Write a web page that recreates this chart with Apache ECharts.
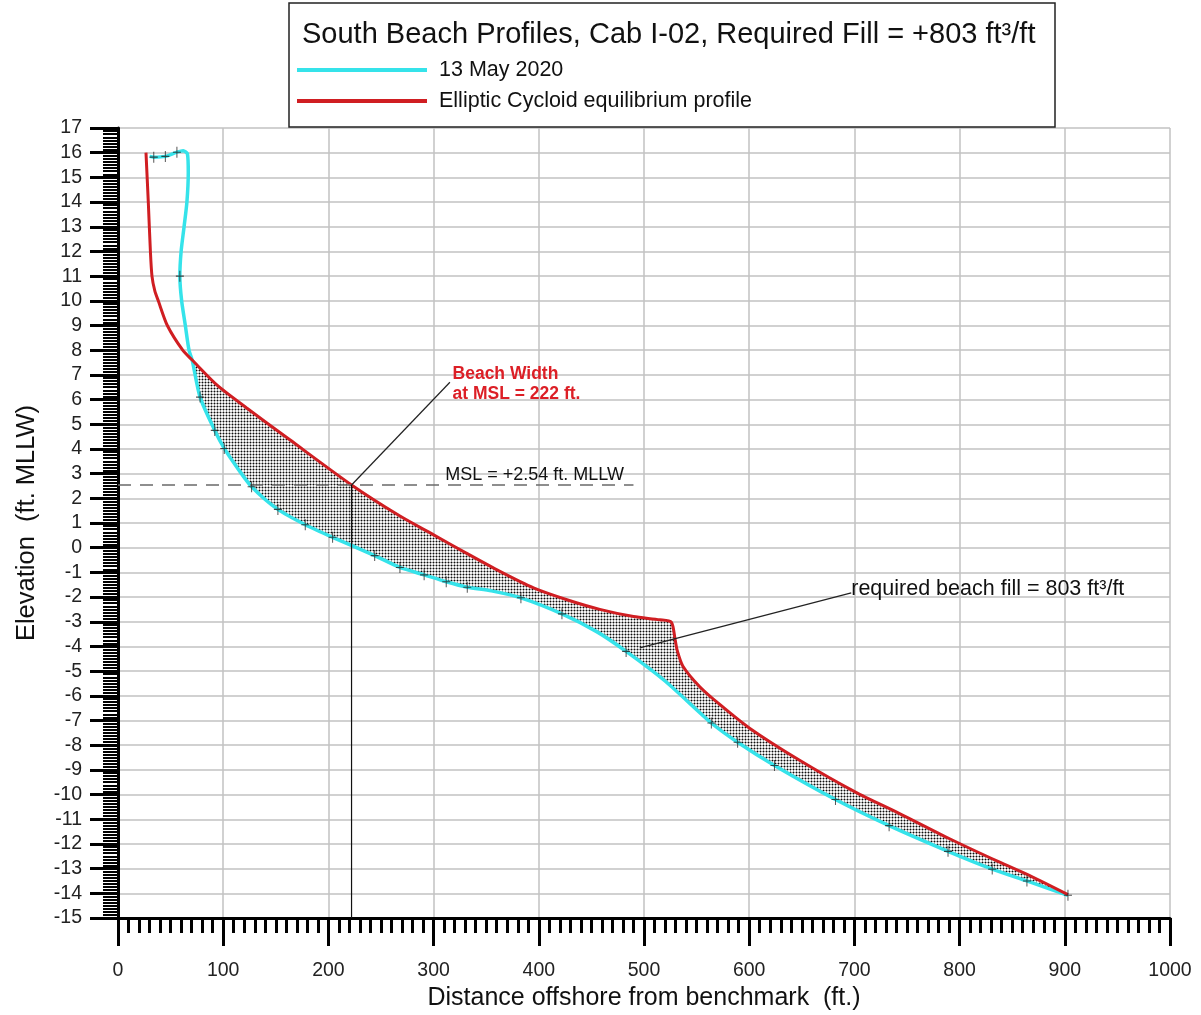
<!DOCTYPE html>
<html>
<head>
<meta charset="utf-8">
<title>South Beach Profiles, Cab I-02</title>
<script src="https://cdn.jsdelivr.net/npm/echarts/dist/echarts.min.js"></script>
<style>
  html, body { margin: 0; padding: 0; background: #fff; overflow: hidden; }
  #chart { width: 1201px; height: 1015px; }
</style>
</head>
<body>
<div id="chart"></div>
<script>
// Surveyed profile, 13 May 2020 (distance offshore ft, elevation ft MLLW)
const profileX = [30, 34, 45, 56, 62, 66, 66.8, 65.5, 62.8, 60, 58.8, 60.5, 64, 67.5, 70.5, 78, 92, 101, 114, 127,
                  152, 178, 204, 244, 268, 291, 312, 332, 355, 383, 422, 455, 483, 520, 564, 589, 624, 682, 733, 789,
                  831, 864, 903];
const profileY = [15.85, 15.82, 15.85, 16.02, 16.08, 15.95, 15.2, 14.0, 13.0, 12.0, 11.0, 10.0, 9.0, 8.0, 7.6, 6.1, 4.75, 4.02, 3.2, 2.47,
                  1.55, 0.93, 0.42, -0.32, -0.8, -1.1, -1.38, -1.6, -1.75, -2.03, -2.68, -3.4, -4.2, -5.4, -7.1, -7.88, -8.82, -10.2, -11.26, -12.3,
                  -13.02, -13.5, -14.08];

// Stations where survey shots were taken (marked with small crosses)
const surveyedAt = [34, 45, 56, 58.8, 78, 92, 101, 127, 152, 178, 204, 244, 268, 291, 312, 332, 383, 422, 483,
                    564, 589, 624, 682, 733, 789, 831, 864, 903];

// Elliptic cycloid equilibrium profile
const equilX = [26.6, 28.8, 30.8, 32.3, 35, 38.3, 46.9, 61.5, 70.5, 95, 122, 163, 222, 268, 300, 331, 363, 395, 426, 458,
                490, 515, 526, 529.5, 531.5, 537, 553, 572, 600, 647.5, 701, 742, 790, 837, 869, 903];
const equilY = [16.0, 14.0, 12.0, 11.0, 10.4, 10.0, 9.0, 8.0, 7.6, 6.55, 5.67, 4.38, 2.54, 1.28, 0.52, -0.22, -0.96, -1.63, -2.1, -2.5,
                -2.79, -2.92, -3.02, -3.7, -4.15, -4.8, -5.63, -6.35, -7.3, -8.6, -9.9, -10.75, -11.78, -12.72, -13.33, -14.05];

// Reference values
const MSL = 2.54;              // mean sea level, ft MLLW
const BEACH_WIDTH = 222;       // ft, equilibrium profile crossing of MSL
const REQUIRED_FILL = 803;     // ft^3/ft
const FILL_FROM_X = 70.5;      // where the two profiles part company
const mslLineX = [0, 490];
const BOTTOM = -15;

// Annotation anchors, in data units
const beachLabelAt = [318, 7.45];
const beachArrowFrom = [315.5, 6.7];
const mslLabelAt = [311, MSL];
const fillLabelAt = [697, -1.66];
const fillArrowFrom = [697, -1.83];
const fillArrowTo = [496, -4.06];

const FONT = '"Liberation Sans", Arial, Helvetica, sans-serif';
const CYAN = '#35e3ea';
const RED = '#d01e22';

const profile = profileX.map((x, i) => [x, profileY[i]]);
const equil = equilX.map((x, i) => [x, equilY[i]]);
const shots = surveyedAt.map(x => [x, profileY[profileX.indexOf(x)]]);

// Fill region: equilibrium profile above, surveyed profile below
const eqStart = equilX.indexOf(FILL_FROM_X);
const prStart = profileX.indexOf(FILL_FROM_X);
const fillPolygon = equil.slice(eqStart).concat(profile.slice(prStart).reverse());

// Stipple (dot) pattern for the fill
const stipple = document.createElement('canvas');
stipple.width = 3; stipple.height = 3;
(function () {
  const g = stipple.getContext('2d');
  g.fillStyle = '#f4f4f4'; g.fillRect(0, 0, 3, 3);
  g.fillStyle = '#9c9c9c';
  g.fillRect(0, 1, 1, 1); g.fillRect(2, 1, 1, 1); g.fillRect(1, 0, 1, 1); g.fillRect(1, 2, 1, 1);
  g.fillStyle = '#0d0d0d'; g.fillRect(1, 1, 1, 1);
})();

const chart = echarts.init(document.getElementById('chart'), null, { renderer: 'canvas' });

const option = {
  animation: false,
  backgroundColor: '#ffffff',
  textStyle: { fontFamily: FONT },
  title: {
    text: 'South Beach Profiles, Cab I-02, Required Fill = +' + REQUIRED_FILL + ' ft³/ft',
    left: 302, top: 20, padding: 0,
    textStyle: { fontFamily: FONT, fontSize: 29, fontWeight: 'normal', color: '#111' }
  },
  legend: {
    data: ['13 May 2020', 'Elliptic Cycloid equilibrium profile'],
    orient: 'vertical', left: 297, top: 58, padding: 0,
    itemWidth: 130, itemHeight: 4, itemGap: 7, icon: 'rect',
    selectedMode: false,
    textStyle: { fontFamily: FONT, fontSize: 21.5, color: '#111', lineHeight: 24, padding: [0, 0, 0, 7] }
  },
  grid: { left: 118, right: 31, top: 128, bottom: 97, outerBoundsMode: 'none', containLabel: false },
  xAxis: {
    type: 'value', min: 0, max: 1000, interval: 100,
    name: 'Distance offshore from benchmark  (ft.)',
    nameLocation: 'middle', nameGap: 68,
    nameTextStyle: { fontFamily: FONT, fontSize: 25, color: '#111' },
    axisLine: { show: true, onZero: false, lineStyle: { color: '#000', width: 3 } },
    axisTick: { show: true, length: 28, lineStyle: { color: '#000', width: 3 } },
    minorTick: { show: true, splitNumber: 10, length: 15, lineStyle: { color: '#000', width: 3 } },
    axisLabel: { fontFamily: FONT, fontSize: 19.5, color: '#222', margin: 43, formatter: v => String(v) },
    splitLine: { show: true, lineStyle: { color: '#c2c2c2', width: 1.5 } }
  },
  yAxis: {
    type: 'value', min: -15, max: 17, interval: 1,
    name: 'Elevation  (ft. MLLW)',
    nameLocation: 'middle', nameGap: 78, nameRotate: 90,
    nameTextStyle: { fontFamily: FONT, fontSize: 25.5, color: '#111' },
    axisLine: { show: true, onZero: false, lineStyle: { color: '#000', width: 3 } },
    axisTick: { show: true, length: 28, lineStyle: { color: '#000', width: 3 } },
    minorTick: { show: true, splitNumber: 8, length: 15, lineStyle: { color: '#000', width: 2 } },
    axisLabel: { fontFamily: FONT, fontSize: 19.5, color: '#222', margin: 36, formatter: v => String(v) },
    splitLine: { show: true, lineStyle: { color: '#c2c2c2', width: 1.5 } }
  },
  series: [
    {
      // stippled fill volume between the profiles
      type: 'custom', name: 'fill', z: 1, silent: true,
      data: [[FILL_FROM_X, 0]],
      renderItem: function (params, api) {
        const pts = fillPolygon.map(p => api.coord(p));
        return {
          type: 'polygon',
          shape: { points: pts },
          style: { fill: { image: stipple, repeat: 'repeat' }, stroke: null }
        };
      }
    },
    {
      name: '13 May 2020', type: 'line', z: 3,
      data: profile, smooth: 0.25, showSymbol: false,
      color: CYAN,
      lineStyle: { color: CYAN, width: 3.5 }
    },
    {
      name: 'Elliptic Cycloid equilibrium profile', type: 'line', z: 4,
      data: equil, smooth: 0.25, showSymbol: false,
      color: RED,
      lineStyle: { color: RED, width: 3 }
    },
    {
      // mean sea level
      name: 'MSL', type: 'line', z: 5, silent: true,
      data: mslLineX.map(x => [x, MSL]), showSymbol: false,
      lineStyle: { color: '#6a6a6a', width: 1.6, type: [13, 9] }
    },
    {
      // beach width drop line, plus annotation arrows
      name: 'width', type: 'line', z: 6, silent: true,
      data: [[BEACH_WIDTH, MSL], [BEACH_WIDTH, BOTTOM]], showSymbol: false,
      lineStyle: { color: '#111', width: 1.2 },
      markLine: {
        silent: true, symbol: ['none', 'arrow'], symbolSize: [0, 13],
        label: { show: false },
        lineStyle: { color: '#222', width: 1.2, type: 'solid' },
        data: [
          [{ coord: beachArrowFrom }, { coord: [BEACH_WIDTH, MSL] }],
          [{ coord: fillArrowFrom }, { coord: fillArrowTo }]
        ]
      }
    },
    {
      name: 'shots', type: 'scatter', z: 7, silent: true,
      data: shots,
      symbol: 'path://M4.4,0H5.6V10H4.4Z M0,4.5H10V5.5H0Z',
      symbolSize: [8, 11],
      itemStyle: { color: '#222' }
    }
  ]
};

chart.setOption(option);

const px = p => chart.convertToPixel({ gridIndex: 0 }, p);
const beachPx = px(beachLabelAt);
const mslPx = px(mslLabelAt);
const fillPx = px(fillLabelAt);

chart.setOption({
  graphic: [
    {
      type: 'rect', z: 0, silent: true,
      shape: { x: 289, y: 3, width: 766, height: 124 },
      style: { fill: 'none', stroke: '#222', lineWidth: 1.5 }
    },
    {
      type: 'text', z: 10, silent: true, x: beachPx[0], y: beachPx[1],
      style: {
        text: 'Beach Width\nat MSL = ' + BEACH_WIDTH + ' ft.',
        font: 'bold 17.5px ' + FONT, fill: '#dc1f26', lineHeight: 20,
        textAlign: 'left', textVerticalAlign: 'top'
      }
    },
    {
      type: 'text', z: 10, silent: true, x: mslPx[0], y: mslPx[1] - 9.5,
      style: {
        text: 'MSL = +' + MSL + ' ft. MLLW',
        font: '18px ' + FONT, fill: '#111',
        textAlign: 'left', textVerticalAlign: 'middle'
      }
    },
    {
      type: 'text', z: 10, silent: true, x: fillPx[0], y: fillPx[1],
      style: {
        text: 'required beach fill = ' + REQUIRED_FILL + ' ft³/ft',
        font: '21.5px ' + FONT, fill: '#111',
        textAlign: 'left', textVerticalAlign: 'middle'
      }
    }
  ]
});
</script>
</body>
</html>
